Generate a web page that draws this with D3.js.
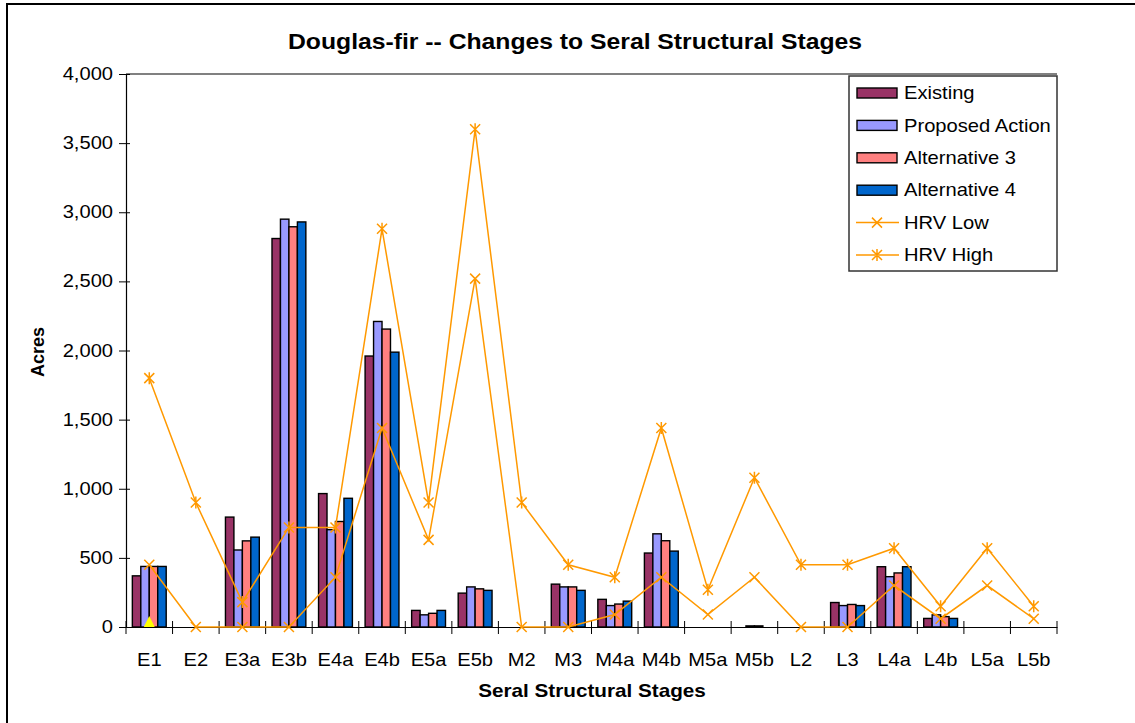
<!DOCTYPE html>
<html>
<head>
<meta charset="utf-8">
<script src="https://cdn.jsdelivr.net/npm/d3@7"></script>
<style>
  html, body { margin: 0; padding: 0; background: #fff; }
  svg { display: block; font-family: "Liberation Sans", Arial, sans-serif; }
</style>
</head>
<body>
<div id="chart"></div>
<script>
// Douglas-fir seral stage chart (grouped bars + HRV range lines)

const categories = ['E1', 'E2', 'E3a', 'E3b', 'E4a', 'E4b', 'E5a', 'E5b', 'M2', 'M3',
  'M4a', 'M4b', 'M5a', 'M5b', 'L2', 'L3', 'L4a', 'L4b', 'L5a', 'L5b'];

const existing = [370, 0, 795, 2810, 965, 1960, 120, 245, 0, 310, 200, 535, 0, 0, 0, 177, 436, 62, 0, 0];
const proposedAction = [438, 0, 557, 2950, 704, 2210, 88, 290, 0, 290, 155, 674, 0, 8, 0, 155, 364, 88, 0, 0];
const alternative3 = [438, 0, 623, 2895, 763, 2155, 99, 276, 0, 290, 166, 624, 0, 8, 0, 163, 391, 75, 0, 0];
const alternative4 = [438, 0, 650, 2930, 931, 1988, 120, 265, 0, 265, 187, 549, 0, 0, 0, 155, 436, 62, 0, 0];

const hrvLow = [450, 0, 0, 0, 360, 1440, 630, 2520, 0, 0, 90, 360, 90, 360, 0, 0, 300, 60, 300, 60];
const hrvHigh = [1800, 900, 180, 720, 720, 2880, 900, 3600, 900, 450, 360, 1440, 270, 1080, 450, 450, 570, 150, 570, 150];

// stray yellow point sitting on the axis under E1
const strayPoint = [{ cat: 'E1', value: 0 }];

const yTicks = [0, 500, 1000, 1500, 2000, 2500, 3000, 3500, 4000];

const barSeries = [
  { name: 'Existing', values: existing, color: '#993366' },
  { name: 'Proposed Action', values: proposedAction, color: '#9999FF' },
  { name: 'Alternative 3', values: alternative3, color: '#FF8080' },
  { name: 'Alternative 4', values: alternative4, color: '#0066CC' }
];
const lineSeries = [
  { name: 'HRV Low', values: hrvLow, marker: 'x' },
  { name: 'HRV High', values: hrvHigh, marker: 'star' }
];

const W = 1135, H = 723;
const plot = { left: 126, right: 1057, top: 74, bottom: 627 };
const SX = 1.15;           // source picture is stretched sideways a little
const lineColor = '#FF9900';

const svg = d3.select('#chart').append('svg')
  .attr('width', W).attr('height', H);

// chart area border (runs off the right and bottom edge)
svg.append('rect')
  .attr('x', 7).attr('y', 4)
  .attr('width', W + 20).attr('height', H + 20)
  .attr('fill', '#fff').attr('stroke', '#000').attr('stroke-width', 2);

// text helper: horizontal stretch around the anchor point
function label(parent, x, y, txt, size, opts = {}) {
  return parent.append('text')
    .attr('transform', `translate(${x},${y}) scale(${opts.sx || SX},1)${opts.rotate ? ` rotate(${opts.rotate})` : ''}`)
    .attr('text-anchor', opts.anchor || 'middle')
    .attr('dominant-baseline', 'central')
    .attr('font-size', size + 'px')
    .attr('font-weight', opts.bold ? 'bold' : 'normal')
    .attr('fill', '#000')
    .text(txt);
}

const x = d3.scaleBand().domain(categories).range([plot.left, plot.right]);
const bw = x.bandwidth();
const gap = bw * 1.5 / 5.5;
const x1 = d3.scaleBand().domain(barSeries.map(s => s.name)).range([gap / 2, bw - gap / 2]);
const y = d3.scaleLinear().domain([0, 4000]).range([plot.bottom, plot.top]);

// top border of plot area
svg.append('line')
  .attr('x1', plot.left).attr('x2', plot.right)
  .attr('y1', plot.top).attr('y2', plot.top)
  .attr('stroke', '#808080').attr('stroke-width', 2);

svg.append('clipPath').attr('id', 'plotClip')
  .append('rect')
  .attr('x', plot.left).attr('y', plot.top)
  .attr('width', plot.right - plot.left).attr('height', plot.bottom - plot.top);

// bars
const barG = svg.append('g');
barSeries.forEach(s => {
  barG.selectAll(null)
    .data(categories.map((c, i) => ({ c, v: s.values[i] })).filter(d => d.v > 0))
    .enter().append('rect')
    .attr('x', d => x(d.c) + x1(s.name))
    .attr('y', d => y(d.v))
    .attr('width', x1.bandwidth())
    .attr('height', d => y(0) - y(d.v))
    .attr('fill', s.color)
    .attr('stroke', '#000')
    .attr('stroke-width', 1.4);
});

// y axis
const yAxis = svg.append('g')
  .attr('transform', `translate(${plot.left},0)`)
  .call(d3.axisLeft(y).tickValues(yTicks).tickSize(0).tickFormat(''));
yAxis.select('.domain').attr('stroke', '#000').attr('stroke-width', 1.2);
yAxis.selectAll('.tick line').attr('x1', -7).attr('x2', 4).attr('stroke', '#000');
yTicks.forEach(t => label(svg, 113, y(t), d3.format(',')(t), 17.5, { anchor: 'end' }));

// x axis
const xAxis = svg.append('g')
  .attr('transform', `translate(0,${plot.bottom})`)
  .call(d3.axisBottom(x).tickSize(0).tickFormat(''));
xAxis.select('.domain').attr('stroke', '#000').attr('stroke-width', 1.2);
xAxis.selectAll('.tick').remove();
const bounds = categories.map(c => x(c)).concat([x.range()[1]]);
xAxis.selectAll('line.sep')
  .data(bounds).enter().append('line')
  .attr('class', 'sep')
  .attr('x1', d => d).attr('x2', d => d)
  .attr('y1', -6).attr('y2', 7)
  .attr('stroke', '#000');
categories.forEach(c => label(svg, x(c) + bw / 2, 660, c, 17.5));

// HRV lines
const lineGen = d3.line()
  .x((d, i) => x(categories[i]) + bw / 2)
  .y(d => y(d));

function drawMarker(g, type, cx, cy, r) {
  g.append('path')
    .attr('d', `M${cx - r},${cy - r}L${cx + r},${cy + r}M${cx - r},${cy + r}L${cx + r},${cy - r}` +
      (type === 'star' ? `M${cx},${cy - r - 1}L${cx},${cy + r + 1}` : ''))
    .attr('stroke', lineColor).attr('stroke-width', 1.5).attr('fill', 'none');
}

lineSeries.forEach(s => {
  const g = svg.append('g');
  g.append('path')
    .datum(s.values)
    .attr('d', lineGen)
    .attr('fill', 'none')
    .attr('stroke', lineColor)
    .attr('stroke-width', 1.5);
  s.values.forEach((v, i) => drawMarker(g, s.marker, x(categories[i]) + bw / 2, y(v), 5));
});

// stray yellow marker, half hidden under the axis
svg.append('g').attr('clip-path', 'url(#plotClip)')
  .selectAll('path').data(strayPoint).enter().append('path')
  .attr('transform', d => `translate(${x(d.cat) + bw / 2},${y(d.value)})`)
  .attr('d', 'M0,-11L6.5,2L-6.5,2Z')
  .attr('fill', '#FFFF00');

// titles
label(svg, 575, 42, 'Douglas-fir -- Changes to Seral Structural Stages', 21.5, { bold: true });
label(svg, 592, 691, 'Seral Structural Stages', 18, { bold: true });
label(svg, 38, 352, 'Acres', 18, { bold: true, sx: 1, rotate: -90 });

// legend
const lg = { x: 849, y: 76, w: 208, h: 195 };
const legend = svg.append('g');
legend.append('rect')
  .attr('x', lg.x).attr('y', lg.y).attr('width', lg.w).attr('height', lg.h)
  .attr('fill', '#fff').attr('stroke', '#333').attr('stroke-width', 1.5);
const rowY = i => 93 + i * 32.4;
barSeries.forEach((s, i) => {
  legend.append('rect')
    .attr('x', 857).attr('y', rowY(i) - 5).attr('width', 40).attr('height', 10)
    .attr('fill', s.color).attr('stroke', '#000').attr('stroke-width', 1.4);
  label(legend, 904, rowY(i), s.name, 18, { anchor: 'start', sx: 1.12 });
});
lineSeries.forEach((s, j) => {
  const i = j + barSeries.length;
  legend.append('line')
    .attr('x1', 856).attr('x2', 899).attr('y1', rowY(i)).attr('y2', rowY(i))
    .attr('stroke', lineColor).attr('stroke-width', 1.5);
  drawMarker(legend, s.marker, 877, rowY(i), 5);
  label(legend, 904, rowY(i), s.name, 18, { anchor: 'start', sx: 1.12 });
});
</script>
</body>
</html>
